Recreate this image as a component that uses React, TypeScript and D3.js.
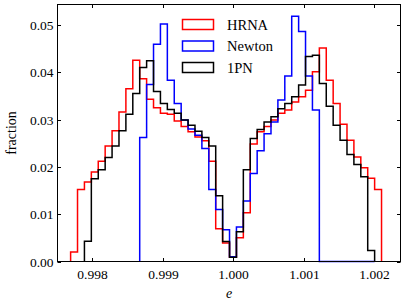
import React, { useEffect, useRef } from 'react';
import * as d3 from 'd3';

// histogram bins shared by all three runs
const binStart = 0.99769;
const binWidth = 0.000098;

const seriesNames = ['HRNA', 'Newton', '1PN'];
const seriesColors = ['#ff0000', '#0000ff', '#000000'];

// HRNA, bins 0..44
const hrnaFirstBin = 0;
const hrnaValues = [
  0.0020, 0.0152, 0.0168, 0.0189, 0.0212, 0.0244, 0.0276, 0.0316, 0.0365, 0.0425,
  0.0386, 0.0343, 0.0325, 0.0313, 0.0311, 0.0297, 0.0285, 0.0274, 0.0263, 0.0255,
  0.0212, 0.0069, 0.0039, 0.0009, 0.0050, 0.0103, 0.0248, 0.0274, 0.0285, 0.0299,
  0.0313, 0.0320, 0.0337, 0.0348, 0.0362, 0.0401, 0.0451, 0.0383, 0.0334, 0.0290,
  0.0256, 0.0221, 0.0198, 0.0176, 0.0152
];

// Newton, bins 10..43 (empty bins on the right run along zero)
const newtonFirstBin = 10;
const newtonValues = [
  0.0262, 0.0374, 0.0459, 0.0502, 0.0383, 0.0334, 0.0299, 0.0280, 0.0267, 0.0239,
  0.0152, 0.0110, 0.0067, 0.0010, 0.0073, 0.0128, 0.0186, 0.0234, 0.0270, 0.0295,
  0.0341, 0.0392, 0.0518, 0.0486, 0.0392, 0.0320, 0, 0, 0, 0,
  0, 0, 0, 0
];

// 1PN, bins 2..43
const pnFirstBin = 2;
const pnValues = [
  0.0043, 0.0175, 0.0194, 0.0220, 0.0244, 0.0276, 0.0311, 0.0355, 0.0410, 0.0424,
  0.0359, 0.0334, 0.0321, 0.0313, 0.0299, 0.0288, 0.0275, 0.0262, 0.0244, 0.0139,
  0.0042, 0.0009, 0.0063, 0.0194, 0.0260, 0.0279, 0.0295, 0.0306, 0.0323, 0.0334,
  0.0348, 0.0373, 0.0433, 0.0436, 0.0376, 0.0328, 0.0288, 0.0256, 0.0226, 0.0205,
  0.0179, 0.0023
];

const xTicks = [0.998, 0.999, 1.0, 1.001, 1.002];
const yTicks = [0, 0.01, 0.02, 0.03, 0.04, 0.05];
const xDomain = [0.997504, 1.002369];
const yDomain = [0, 0.0543];

const App: React.FC = () => {
  const svgRef = useRef<SVGSVGElement>(null);

  useEffect(() => {
    if (!svgRef.current) return;
    const width = 408;
    const height = 306;
    const margin = { left: 57.5, right: 7.5, top: 4.5, bottom: 44.5 };
    const font = '"Liberation Serif", "DejaVu Serif", serif';

    d3.select(svgRef.current).selectAll('*').remove();
    const svg = d3.select(svgRef.current)
      .attr('viewBox', `0 0 ${width} ${height}`);

    const x = d3.scaleLinear().domain(xDomain).range([margin.left, width - margin.right]);
    const y = d3.scaleLinear().domain(yDomain).range([height - margin.bottom, margin.top]);

    // 直方图
    const series = [
      { first: hrnaFirstBin, values: hrnaValues },
      { first: newtonFirstBin, values: newtonValues },
      { first: pnFirstBin, values: pnValues }
    ];

    const line = d3.line<[number, number]>()
      .x(d => x(d[0]))
      .y(d => y(d[1]));

    series.forEach((s, i) => {
      const pts: [number, number][] = [];
      const e0 = binStart + s.first * binWidth;
      pts.push([e0, 0]);
      s.values.forEach((v, j) => {
        const a = binStart + (s.first + j) * binWidth;
        pts.push([a, v]);
        pts.push([a + binWidth, v]);
      });
      pts.push([binStart + (s.first + s.values.length) * binWidth, 0]);
      svg.append('path')
        .attr('d', line(pts) || '')
        .attr('fill', 'none')
        .attr('stroke', seriesColors[i])
        .attr('stroke-width', 1.5)
        .attr('stroke-linejoin', 'miter');
    });

    // 坐标框
    const x0 = margin.left, x1 = width - margin.right;
    const y0 = height - margin.bottom, y1 = margin.top;
    svg.append('rect')
      .attr('x', x0).attr('y', y1)
      .attr('width', x1 - x0).attr('height', y0 - y1)
      .attr('fill', 'none').attr('stroke', '#000').attr('stroke-width', 1);

    const tickLen = 3.5;
    xTicks.forEach(t => {
      const px = Math.round(x(t)) + 0.5;
      svg.append('line').attr('x1', px).attr('x2', px).attr('y1', y0).attr('y2', y0 - tickLen)
        .attr('stroke', '#000').attr('stroke-width', 1);
      svg.append('line').attr('x1', px).attr('x2', px).attr('y1', y1).attr('y2', y1 + tickLen)
        .attr('stroke', '#000').attr('stroke-width', 1);
      svg.append('text')
        .attr('x', px).attr('y', y0 + 17)
        .attr('text-anchor', 'middle')
        .attr('font-family', font).attr('font-size', 13.5)
        .text(d3.format('.3f')(t));
    });
    yTicks.forEach(t => {
      const py = Math.round(y(t)) + 0.5;
      svg.append('line').attr('x1', x0).attr('x2', x0 + tickLen).attr('y1', py).attr('y2', py)
        .attr('stroke', '#000').attr('stroke-width', 1);
      svg.append('line').attr('x1', x1).attr('x2', x1 - tickLen).attr('y1', py).attr('y2', py)
        .attr('stroke', '#000').attr('stroke-width', 1);
      svg.append('text')
        .attr('x', x0 - 4).attr('y', py).attr('dy', '0.35em')
        .attr('text-anchor', 'end')
        .attr('font-family', font).attr('font-size', 13.5)
        .text(d3.format('.2f')(t));
    });

    // 轴标签
    svg.append('text')
      .attr('x', (x0 + x1) / 2).attr('y', 298)
      .attr('text-anchor', 'middle')
      .attr('font-family', font).attr('font-size', 14).attr('font-style', 'italic')
      .text('e');
    svg.append('text')
      .attr('transform', `translate(16, ${(y0 + y1) / 2}) rotate(-90)`)
      .attr('text-anchor', 'middle')
      .attr('font-family', font).attr('font-size', 14)
      .text('fraction');

    // 图例
    const legend = svg.append('g').attr('transform', 'translate(182, 19)');
    seriesNames.forEach((name, i) => {
      const g = legend.append('g').attr('transform', `translate(0, ${i * 21.5})`);
      g.append('rect')
        .attr('x', 0.5).attr('y', 0.5).attr('width', 31).attr('height', 10)
        .attr('fill', 'none').attr('stroke', seriesColors[i]).attr('stroke-width', 1.5);
      g.append('text')
        .attr('x', 45).attr('y', 5.5).attr('dy', '0.35em')
        .attr('font-family', font).attr('font-size', 14.5)
        .text(name);
    });
  }, []);

  return (
    <div style={{ position: 'absolute', left: 0, top: 0, width: 408, height: 306 }}>
      <svg ref={svgRef} width={408} height={306} style={{ display: 'block' }} />
    </div>
  );
};

export default App;
